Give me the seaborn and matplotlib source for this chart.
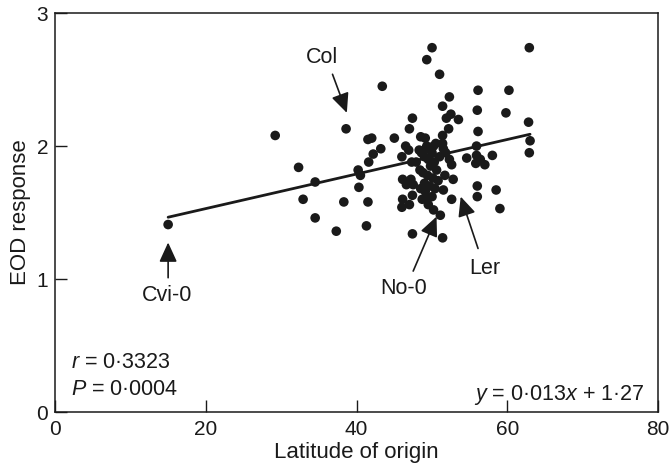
import numpy as np
import pandas as pd
import matplotlib
matplotlib.use("Agg")
import matplotlib.pyplot as plt
import seaborn as sns

# latitude of origin and EOD response
latitude = [
    15.0, 29.2, 32.3, 32.9, 34.5, 34.5, 37.3, 38.3, 38.6, 40.2,
    40.5, 40.3, 41.3, 41.5, 41.6, 42.2, 41.5, 42.0, 43.2, 43.4,
    45.0, 46.5, 46.9, 47.0, 47.4, 47.4, 46.1, 46.0, 47.0, 47.4,
    46.1, 47.2, 47.5, 46.6, 47.3, 47.9, 48.4, 48.5, 49.1, 49.3,
    50.0, 51.0, 51.4, 52.3, 52.5, 51.9, 53.5, 52.2, 51.4, 51.4,
    49.3, 50.2, 51.5, 52.3, 52.6, 52.8, 51.5, 52.6, 51.1, 51.4,
    49.1, 49.3, 54.6, 55.9, 56.1, 56.1, 56.0, 55.9, 56.4, 55.8,
    57.0, 58.0, 56.0, 56.0, 58.5, 59.0, 59.8, 60.2, 62.9, 62.8,
    63.0, 62.9, 48.6, 49.0, 49.5, 50.0, 49.8, 50.3, 48.8, 49.4,
    50.1, 50.6, 49.0, 49.7, 50.4, 48.7, 50.0, 49.5, 50.2, 51.0,
    50.8, 51.7, 48.3, 49.2, 50.5, 48.5, 51.8, 46.0,
]
eod = [
    1.41, 2.08, 1.84, 1.60, 1.73, 1.46, 1.36, 1.58, 2.13, 1.82,
    1.78, 1.69, 1.40, 1.58, 1.88, 1.94, 2.05, 2.06, 1.98, 2.45,
    2.06, 2.00, 1.97, 2.13, 2.21, 1.34, 1.60, 1.54, 1.56, 1.63,
    1.75, 1.75, 1.71, 1.71, 1.88, 1.88, 1.82, 2.07, 2.06, 2.65,
    2.74, 2.54, 2.30, 2.37, 2.24, 2.21, 2.20, 2.13, 2.08, 2.02,
    2.00, 2.00, 1.98, 1.90, 1.86, 1.75, 1.67, 1.60, 1.48, 1.31,
    1.66, 1.62, 1.91, 2.00, 2.11, 2.42, 2.27, 1.93, 1.90, 1.87,
    1.86, 1.93, 1.70, 1.62, 1.67, 1.53, 2.25, 2.42, 2.74, 2.18,
    2.04, 1.95, 1.95, 1.92, 1.90, 1.95, 1.85, 1.88, 1.80, 1.78,
    1.76, 1.82, 1.72, 1.70, 1.68, 1.60, 1.62, 1.56, 1.52, 1.92,
    1.74, 1.78, 1.97, 1.98, 2.02, 1.68, 1.95, 1.92,
]

# regression line as printed on the chart
slope = 0.013
intercept = 1.27

# labelled accessions: name, arrow tip, arrow tail, text position
acc_names = ["Cvi-0", "Col", "No-0", "Ler"]
acc_tips = [(15.0, 1.275), (38.7, 2.25), (50.6, 1.47), (53.8, 1.62)]
acc_tails = [(15.0, 1.01), (36.8, 2.54), (47.5, 1.06), (56.1, 1.23)]
acc_text = [(14.8, 0.88), (35.4, 2.67), (46.2, 0.93), (57.0, 1.08)]

df = pd.DataFrame({"Latitude of origin": latitude, "EOD response": eod})

sns.set_theme(style="white")
plt.rcParams["font.family"] = ["Liberation Sans", "DejaVu Sans"]
plt.rcParams["mathtext.fontset"] = "custom"
plt.rcParams["mathtext.rm"] = "Liberation Sans"
plt.rcParams["mathtext.it"] = "Liberation Sans:italic"

ink = "#1a1a1a"
fig = plt.figure(figsize=(6.71, 4.69), dpi=100)
ax = fig.add_axes([0.082, 0.1215, 0.899, 0.8505])

sns.scatterplot(data=df, x="Latitude of origin", y="EOD response", ax=ax,
                color=ink, s=48, edgecolor="none", zorder=3)

line_x = np.array([min(latitude), max(latitude)])
line_df = pd.DataFrame({"x": line_x, "y": slope * line_x + intercept})
sns.lineplot(data=line_df, x="x", y="y", ax=ax, color=ink, lw=2.0, zorder=2)

for name, tip, tail, pos in zip(acc_names, acc_tips, acc_tails, acc_text):
    ax.annotate("", xy=tip, xytext=tail,
                arrowprops=dict(arrowstyle="-|>,head_length=0.7,head_width=0.32",
                                color=ink, lw=1.2, mutation_scale=17,
                                shrinkA=0, shrinkB=0))
    ax.text(pos[0], pos[1], name, ha="center", va="center", fontsize=15.5, color=ink)

ax.text(2.1, 0.37, r"$r$ = 0·3323", fontsize=15.5, ha="left", va="center", color=ink)
ax.text(2.1, 0.17, r"$P$ = 0·0004", fontsize=15.5, ha="left", va="center", color=ink)
ax.text(78.2, 0.13, r"$y$ = 0·013$x$ + 1·27", fontsize=15.5, ha="right", va="center", color=ink)

ax.set_xlim(0, 80)
ax.set_ylim(0, 3)
ax.set_xticks([0, 20, 40, 60, 80])
ax.set_yticks([0, 1, 2, 3])
ax.tick_params(direction="in", length=8.5, width=1, colors=ink,
               labelsize=15, bottom=True, left=True)
ax.tick_params(axis="x", pad=6)
ax.tick_params(axis="y", pad=5)
ax.set_xlabel("Latitude of origin", fontsize=16, color=ink, labelpad=2)
ax.set_ylabel("EOD response", fontsize=16, color=ink, labelpad=4)
for sp in ax.spines.values():
    sp.set_visible(True)
    sp.set_color(ink)
    sp.set_linewidth(1.1)

fig.savefig("out.png", dpi=100)
